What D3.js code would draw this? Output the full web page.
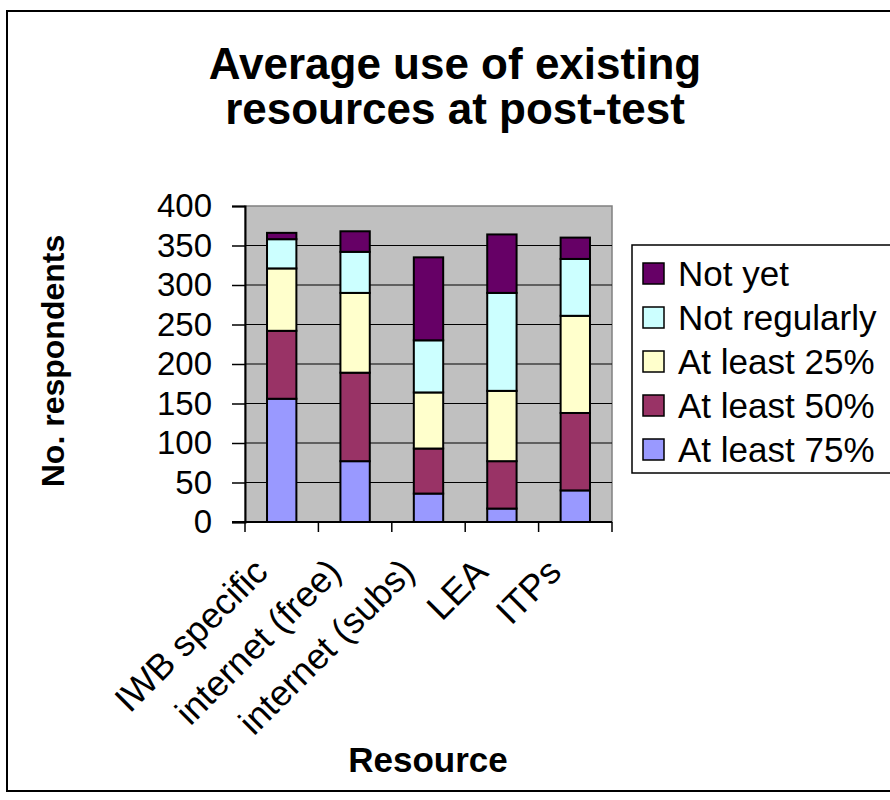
<!DOCTYPE html>
<html>
<head>
<meta charset="utf-8">
<script src="https://cdn.jsdelivr.net/npm/d3@7"></script>
<style>
  body { margin: 0; background: #fff; }
  svg text { font-family: Arial, "Liberation Sans", sans-serif; fill: #000; }
</style>
</head>
<body>
<div class="chart"></div>
<script>
const resources = ["IWB specific", "internet (free)", "internet (subs)", "LEA", "ITPs"];
const seriesNames = ["At least 75%", "At least 50%", "At least 25%", "Not regularly", "Not yet"];
const atLeast75 = [156, 77, 36, 17, 40];
const atLeast50 = [86, 112, 57, 60, 98];
const atLeast25 = [79, 101, 71, 89, 123];
const notRegularly = [37, 52, 66, 124, 72];
const notYet = [8, 26, 105, 74, 27];
const yTicks = [0, 50, 100, 150, 200, 250, 300, 350, 400];
const colors = ["#9999ff", "#993366", "#ffffcc", "#ccffff", "#660066"];

const seriesValues = [atLeast75, atLeast50, atLeast25, notRegularly, notYet];
const rows = resources.map((r, i) => {
  const row = { resource: r };
  seriesNames.forEach((s, k) => { row[s] = seriesValues[k][i]; });
  return row;
});

const W = 890, H = 800;
const plot = { left: 245, right: 612, top: 206, bottom: 522 };

const svg = d3.select(".chart").append("svg")
  .attr("width", W).attr("height", H);

// outer frame
svg.append("rect")
  .attr("x", 7).attr("y", 11).attr("width", 900).attr("height", 780)
  .attr("fill", "#fff").attr("stroke", "#000").attr("stroke-width", 2);

// title
svg.append("text")
  .attr("x", 455).attr("text-anchor", "middle")
  .style("font-size", "44px").style("font-weight", "bold")
  .selectAll("tspan")
  .data(["Average use of existing", "resources at post-test"])
  .join("tspan")
  .attr("x", 455)
  .attr("y", (d, i) => 79 + i * 45)
  .text(d => d);

const x = d3.scaleBand()
  .domain(resources)
  .range([plot.left, plot.right]);

const y = d3.scaleLinear()
  .domain([0, 400])
  .range([plot.bottom, plot.top]);

// plot background
svg.append("rect")
  .attr("x", plot.left).attr("y", plot.top)
  .attr("width", plot.right - plot.left).attr("height", plot.bottom - plot.top)
  .attr("fill", "#c0c0c0").attr("stroke", "#808080").attr("stroke-width", 1.5);

// gridlines
svg.append("g")
  .selectAll("line")
  .data(yTicks.filter(d => d > 0 && d < 400))
  .join("line")
  .attr("x1", plot.left).attr("x2", plot.right)
  .attr("y1", d => y(d)).attr("y2", d => y(d))
  .attr("stroke", "#000").attr("stroke-width", 1);

// stacked bars
const stack = d3.stack().keys(seriesNames);
const layers = stack(rows);
const barW = x.bandwidth() * 0.4;

svg.append("g")
  .selectAll("g")
  .data(layers)
  .join("g")
  .attr("fill", (d, i) => colors[i])
  .selectAll("rect")
  .data(d => d)
  .join("rect")
  .attr("x", d => x(d.data.resource) + (x.bandwidth() - barW) / 2)
  .attr("y", d => y(d[1]))
  .attr("width", barW)
  .attr("height", d => y(d[0]) - y(d[1]))
  .attr("stroke", "#000")
  .attr("stroke-width", 2);

// y axis
const yAxis = svg.append("g")
  .attr("transform", `translate(${plot.left},0)`)
  .call(d3.axisLeft(y).tickValues(yTicks).tickSize(13).tickPadding(20));
yAxis.select(".domain").attr("stroke", "#000").attr("stroke-width", 2);
yAxis.selectAll(".tick line").attr("stroke", "#000").attr("stroke-width", 1.5);
yAxis.selectAll(".tick text")
  .style("font-size", "33px")
  .attr("font-family", null);

// x axis
const xAxis = svg.append("g")
  .attr("transform", `translate(0,${plot.bottom})`);
xAxis.append("line")
  .attr("x1", plot.left - 13).attr("x2", plot.right)
  .attr("stroke", "#000").attr("stroke-width", 2);
xAxis.selectAll(".xtick")
  .data(resources.concat(["end"]))
  .join("line")
  .attr("class", "xtick")
  .attr("x1", (d, i) => i < resources.length ? x(d) : plot.right)
  .attr("x2", (d, i) => i < resources.length ? x(d) : plot.right)
  .attr("y1", 0).attr("y2", 10)
  .attr("stroke", "#000").attr("stroke-width", 1.5);
xAxis.selectAll(".xlabel")
  .data(resources)
  .join("text")
  .attr("class", "xlabel")
  .attr("text-anchor", "end")
  .attr("transform", d => `translate(${x(d) + x.bandwidth() / 2 - 12},${52}) rotate(-45)`)
  .style("font-size", "36px")
  .text(d => d);

// axis titles
svg.append("text")
  .attr("text-anchor", "middle")
  .attr("transform", "translate(64,361) rotate(-90)")
  .style("font-size", "32px").style("font-weight", "bold")
  .text("No. respondents");

svg.append("text")
  .attr("x", 428).attr("y", 772)
  .attr("text-anchor", "middle")
  .style("font-size", "35px").style("font-weight", "bold")
  .text("Resource");

// legend
const legend = svg.append("g");
legend.append("rect")
  .attr("x", 632).attr("y", 245).attr("width", 300).attr("height", 228)
  .attr("fill", "#fff").attr("stroke", "#000").attr("stroke-width", 1.5);

const legendItems = seriesNames.slice().reverse();
const legendRow = legend.selectAll(".item")
  .data(legendItems)
  .join("g")
  .attr("class", "item")
  .attr("transform", (d, i) => `translate(643,${273 + i * 44})`);
legendRow.append("rect")
  .attr("x", 0).attr("y", -10).attr("width", 21).attr("height", 21)
  .attr("fill", d => colors[seriesNames.indexOf(d)])
  .attr("stroke", "#000").attr("stroke-width", 1.5);
legendRow.append("text")
  .attr("x", 35).attr("dy", "0.36em")
  .style("font-size", "35px")
  .text(d => d);
</script>
</body>
</html>
